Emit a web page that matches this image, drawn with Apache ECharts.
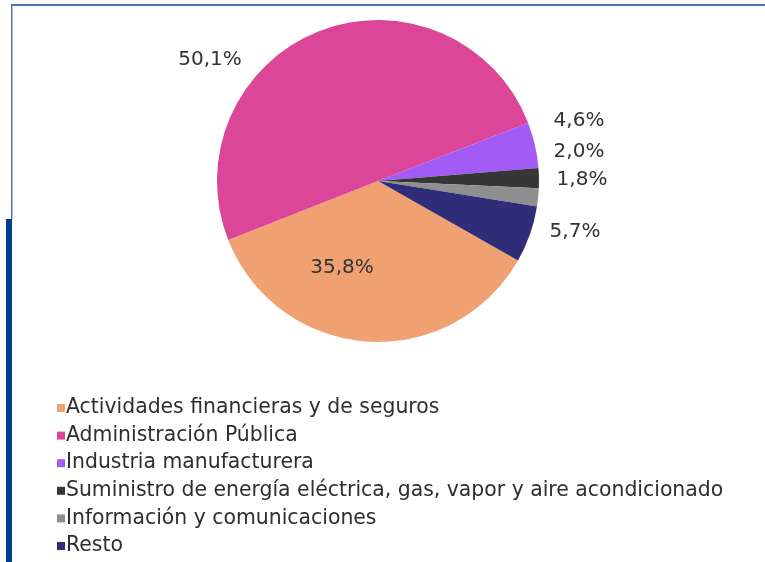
<!DOCTYPE html>
<html>
<head>
<meta charset="utf-8">
<script src="https://cdn.jsdelivr.net/npm/echarts@6/dist/echarts.min.js"></script>
<style>
html,body{margin:0;padding:0;background:#fff;}
#c{width:765px;height:562px;}
</style>
</head>
<body>
<div id="c"></div>
<script>
const categories = [
  'Actividades financieras y de seguros',
  'Administración Pública',
  'Industria manufacturera',
  'Suministro de energía eléctrica, gas, vapor y aire acondicionado',
  'Información y comunicaciones',
  'Resto'
];
const values = [35.8, 50.1, 4.6, 2.0, 1.8, 5.7];
const labelTexts = ['35,8%', '50,1%', '4,6%', '2,0%', '1,8%', '5,7%'];
const colors = ['#F0A172', '#DC4699', '#A35BF5', '#363636', '#8F8F8F', '#2F2C78'];

// label anchor positions (layout only)
const labelPos = [[342, 268], [210, 60], [579, 121], [579, 152], [582, 180], [575, 232]];

const chart = echarts.init(document.getElementById('c'));
const option = {
  backgroundColor: '#ffffff',
  animation: false,
  color: colors,
  legend: {
    orient: 'vertical',
    left: 57,
    top: 398,
    height: 170,
    padding: 0,
    itemWidth: 8,
    itemHeight: 8,
    itemGap: 7.6,
    icon: 'rect',
    textStyle: {
      fontFamily: 'DejaVu Sans',
      fontSize: 20.4,
      color: '#2e2e2e',
      lineHeight: 20,
      padding: [0, 0, 0, -4]
    },
    data: categories
  },
  graphic: [
    { type: 'rect', shape: { x: 11, y: 4, width: 754, height: 2 }, style: { fill: '#4F74B0' } },
    { type: 'rect', shape: { x: 11, y: 4, width: 1.5, height: 215 }, style: { fill: '#4F74B0' } },
    { type: 'rect', shape: { x: 6, y: 219, width: 6, height: 343 }, style: { fill: '#003C8F' } }
  ],
  series: [{
    type: 'pie',
    center: [378, 181],
    radius: 161,
    startAngle: -29.6,
    clockwise: true,
    avoidLabelOverlap: false,
    label: {
      show: true,
      fontFamily: 'DejaVu Sans',
      fontSize: 20,
      color: '#333333',
      formatter: function (p) { return labelTexts[p.dataIndex]; }
    },
    labelLine: { show: false },
    labelLayout: function (p) {
      const pos = labelPos[p.dataIndex];
      return { x: pos[0], y: pos[1], align: 'center', verticalAlign: 'middle' };
    },
    itemStyle: { borderWidth: 0 },
    emphasis: { disabled: true },
    data: categories.map(function (c, i) { return { name: c, value: values[i] }; })
  }]
};
chart.setOption(option);
</script>
</body>
</html>
